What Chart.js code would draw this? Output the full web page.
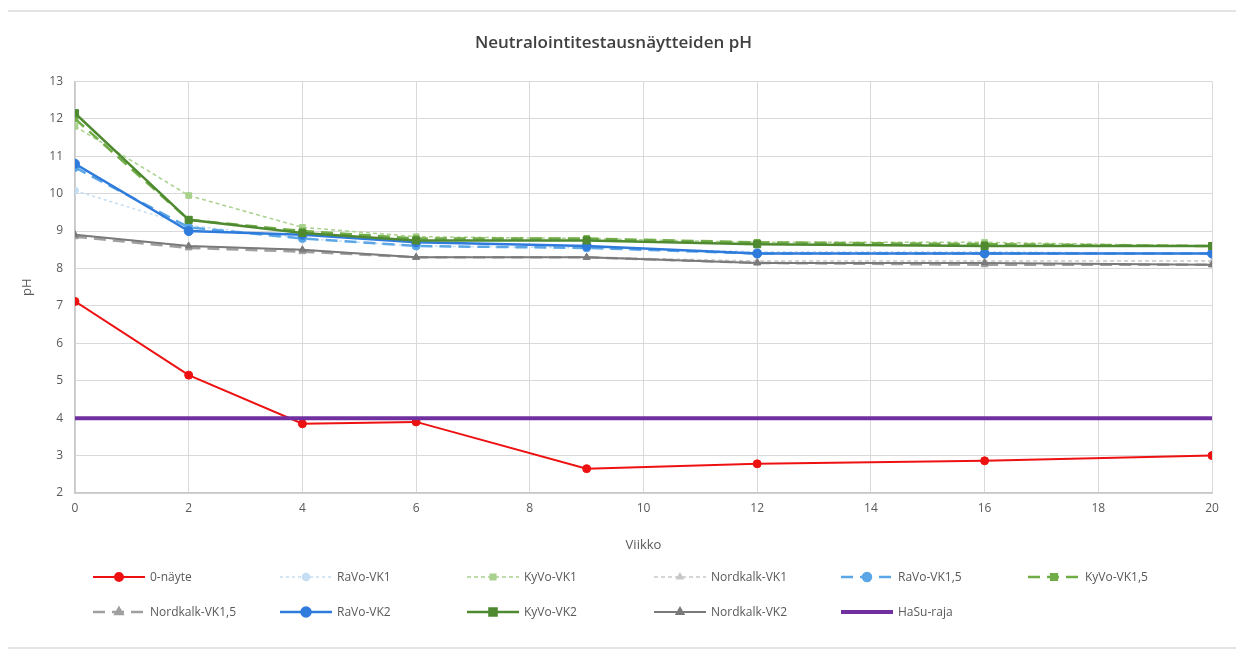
<!DOCTYPE html>
<html>
<head>
<meta charset="utf-8">
<script src="https://cdn.jsdelivr.net/npm/chart.js@4/dist/chart.umd.min.js"></script>
<style>
  html, body { margin: 0; padding: 0; background: #fff; }
  #wrap { width: 1236px; height: 651px; }
</style>
</head>
<body>
<div id="wrap"><canvas id="chart" width="1236" height="651"></canvas></div>
<script>
// weeks (Viikko)
const weeks = [0, 2, 4, 6, 9, 12, 16, 20];

const nolla = [7.12, 5.15, 3.85, 3.9, 2.65, 2.78, 2.86, 3.0];
const ravoVK1 = [10.08, 9.15, 8.8, 8.6, 8.55, 8.45, 8.45, 8.4];
const kyvoVK1 = [11.8, 9.95, 9.1, 8.85, 8.8, 8.7, 8.7, 8.6];
const nordVK1 = [8.9, 8.6, 8.5, 8.3, 8.3, 8.2, 8.2, 8.2];
const ravoVK15 = [10.7, 9.1, 8.8, 8.6, 8.55, 8.4, 8.4, 8.4];
const kyvoVK15 = [12.0, 9.3, 9.0, 8.8, 8.8, 8.7, 8.65, 8.6];
const nordVK15 = [8.85, 8.55, 8.45, 8.3, 8.3, 8.15, 8.1, 8.1];
const ravoVK2 = [10.8, 9.0, 8.9, 8.7, 8.6, 8.4, 8.4, 8.4];
const kyvoVK2 = [12.15, 9.3, 8.95, 8.75, 8.75, 8.65, 8.6, 8.6];
const nordVK2 = [8.9, 8.6, 8.5, 8.3, 8.3, 8.15, 8.15, 8.1];
const hasuRaja = [4, 4, 4, 4, 4, 4, 4, 4];

const yTicks = [2, 13];
const xTicks = [0, 20];

const pts = (vals) => vals.map((v, i) => ({ x: weeks[i], y: v }));

const mk = (label, vals, color, dash, style, width, radius) => ({
    label: label,
    data: pts(vals),
    borderColor: color,
    backgroundColor: color,
    borderWidth: width,
    borderDash: dash,
    pointStyle: style,
    pointRadius: radius,
    pointBorderWidth: 1,
    pointBackgroundColor: color,
    pointBorderColor: color,
    tension: 0
});

const datasets = [
    mk('0-näyte', nolla, '#ee1111', [], 'circle', 2, 4),
    mk('RaVo-VK1', ravoVK1, '#c5def4', [3, 3], 'circle', 1.5, 3.5),
    mk('KyVo-VK1', kyvoVK1, '#a9d18e', [4, 3], 'rect', 1.5, 4),
    mk('Nordkalk-VK1', nordVK1, '#c8c8c8', [4, 3], 'triangle', 1.5, 3.5),
    mk('RaVo-VK1,5', ravoVK15, '#5aa6e6', [12, 7], 'circle', 2.5, 4),
    mk('KyVo-VK1,5', kyvoVK15, '#70ad47', [12, 7], 'rect', 2.5, 4),
    mk('Nordkalk-VK1,5', nordVK15, '#a0a0a0', [12, 7], 'triangle', 2.5, 4),
    mk('RaVo-VK2', ravoVK2, '#2f7bdc', [], 'circle', 2.5, 4.5),
    mk('KyVo-VK2', kyvoVK2, '#4f8a30', [], 'rect', 2.5, 5),
    mk('Nordkalk-VK2', nordVK2, '#7a7a7a', [], 'triangle', 2, 4),
    mk('HaSu-raja', hasuRaja, '#7030a0', [], false, 4, 0)
];
// later series on top, like the original
datasets.forEach((d, i) => { d.order = datasets.length - i; });

const font = "'Open Sans', 'Liberation Sans', sans-serif";
const textColor = '#595959';

// legend drawn in a 6-column grid below the plot
const legendPlugin = {
    id: 'gridLegend',
    afterDraw(chart) {
        const ctx = chart.ctx;
        const sets = chart.data.datasets;
        ctx.save();
        sets.forEach((d, i) => {
            const col = i % 6;
            const row = Math.floor(i / 6);
            const x0 = 93 + col * 187;
            const y = 577 + row * 35;
            ctx.strokeStyle = d.borderColor;
            ctx.lineWidth = d.borderWidth;
            ctx.setLineDash(d.borderDash);
            ctx.beginPath();
            ctx.moveTo(x0, y);
            ctx.lineTo(x0 + 52, y);
            ctx.stroke();
            ctx.setLineDash([]);
            if (d.pointStyle) {
                Chart.helpers.drawPoint(ctx, {
                    pointStyle: d.pointStyle,
                    radius: d.pointRadius,
                    borderWidth: 1,
                    rotation: 0
                }, x0 + 26, y);
                ctx.fillStyle = d.borderColor;
                ctx.fill();
            }
            ctx.fillStyle = textColor;
            ctx.font = '12px ' + font;
            ctx.textBaseline = 'middle';
            ctx.textAlign = 'left';
            ctx.fillText(d.label, x0 + 57, y + 1);
        });
        // chart frame lines
        ctx.strokeStyle = '#dcdcdc';
        ctx.lineWidth = 1.5;
        ctx.beginPath();
        ctx.moveTo(8, 11);
        ctx.lineTo(1236, 11);
        ctx.moveTo(8, 648);
        ctx.lineTo(1236, 648);
        ctx.stroke();
        ctx.restore();
    }
};

new Chart(document.getElementById('chart'), {
    type: 'line',
    data: { datasets: datasets },
    options: {
        responsive: false,
        animation: false,
        layout: { padding: { left: 15, right: 24, top: 0, bottom: 94 } },
        plugins: {
            legend: { display: false },
            tooltip: { enabled: false },
            title: {
                display: true,
                text: 'Neutralointitestausnäytteiden pH',
                color: '#404040',
                font: { family: font, size: 17, weight: '600' },
                padding: { top: 33, bottom: 28 }
            }
        },
        scales: {
            x: {
                type: 'linear',
                min: xTicks[0],
                max: xTicks[1],
                ticks: { stepSize: 2, color: textColor, font: { family: font, size: 12 }, padding: 8 },
                grid: { color: '#d9d9d9', drawTicks: false },
                border: { color: '#c8c8c8', width: 1.5 },
                title: {
                    display: true,
                    text: 'Viikko',
                    color: textColor,
                    font: { family: font, size: 13 },
                    padding: { top: 14, bottom: 4 }
                }
            },
            y: {
                min: yTicks[0],
                max: yTicks[1],
                afterFit(s) { s.width = 60; },
                ticks: { stepSize: 1, color: textColor, font: { family: font, size: 12 }, padding: 12 },
                grid: { color: '#d9d9d9', drawTicks: false },
                border: { color: '#c8c8c8', width: 1.5 },
                title: {
                    display: true,
                    text: 'pH',
                    color: textColor,
                    font: { family: font, size: 13 },
                    padding: { top: 4, bottom: 4 }
                }
            }
        }
    },
    plugins: [legendPlugin]
});
</script>
</body>
</html>
